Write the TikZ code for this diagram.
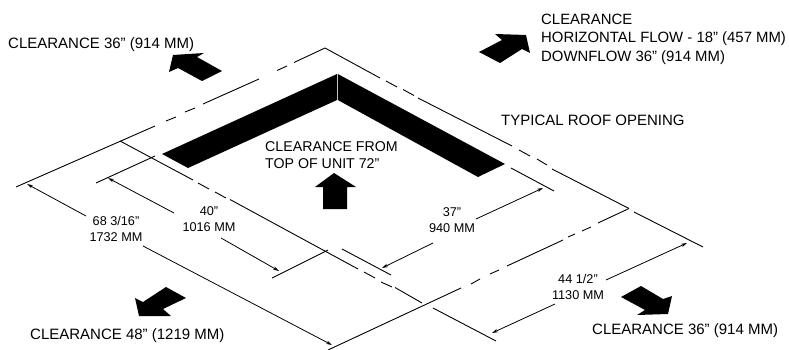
\documentclass[tikz,border=0pt]{standalone}
\usepackage{fontspec}
\setmainfont{Liberation Sans}
\usetikzlibrary{arrows.meta}

\begin{document}
\begin{tikzpicture}[
    x=1pt, y=-1pt,
    edge/.style={line width=0.9pt, line cap=butt},
    dimarrow/.style={-{Stealth[length=6pt,width=3.5pt]}, line width=0.8pt},
    flow/.style={fill=black, draw=none},
    note/.style={anchor=west, align=left, inner sep=0pt, font=\fontsize{15}{18.5}\selectfont},
    dimtext/.style={align=center, inner sep=0pt, font=\fontsize{12.7}{16}\selectfont}
]
    \useasboundingbox (0,0) rectangle (789,350);

    % Outer opening - upper left side
    \draw[edge] (325,48) -- (294,62.5);
    \draw[edge] (287,66) -- (277,70.5);
    \draw[edge] (259,79) -- (203,104);
    \draw[edge] (195,108) -- (185,112);
    \draw[edge] (176,117) -- (166,121);
    \draw[edge] (155,126) -- (16,187);

    % Outer opening - upper right side
    \draw[edge] (325,48) -- (380,78);
    \draw[edge] (386,81) -- (397,87);
    \draw[edge] (403,89.5) -- (414,95.5);
    \draw[edge] (418,98) -- (512,146);
    \draw[edge] (519,150) -- (530,156);
    \draw[edge] (537,159) -- (547,165);
    \draw[edge] (552,169) -- (629,208.5);
    \draw[edge] (634,212) -- (703,247);

    % Outer opening - lower right side
    \draw[edge] (629,208.5) -- (598,223);
    \draw[edge] (591,227) -- (582,231);
    \draw[edge] (575,234) -- (568,237);
    \draw[edge] (563,240) -- (507,266);
    \draw[edge] (499,270) -- (490,274);
    \draw[edge] (480,279) -- (471,284);
    \draw[edge] (461,288) -- (328,350);

    % Outer opening - lower left side
    \draw[edge] (120,141) -- (193,180);
    \draw[edge] (198,183) -- (209,189);
    \draw[edge] (215,192) -- (226,198);
    \draw[edge] (230,199.5) -- (358,269);
    \draw[edge] (364,272) -- (375,278);
    \draw[edge] (381,282) -- (392,287);
    \draw[edge] (395,287.5) -- (422,303);
    \draw[edge] (433,308) -- (496,341);

    % Inner extension lines
    \draw[edge] (155,156) -- (96,183);
    \draw[edge] (328,250) -- (272,278);
    \draw[edge] (511,168) -- (554,191);
    \draw[edge] (342,249) -- (391,275);

    % Black band of the unit
    \fill[flow] (337,74) -- (162,154) -- (188,168) -- (337,100) -- cycle;
    \fill[flow] (337.8,74) -- (505,164) -- (478,177) -- (337.8,100) -- cycle;

    % Flow arrows
    \fill[flow] (222,71) -- (202,81) -- (178,68) -- (169,72) -- (173,55) -- (204,53) -- (197,57) -- cycle;
    \fill[flow] (479,52) -- (502,40) -- (495,34) -- (526,35) -- (530,53) -- (522,49) -- (500,63) -- cycle;
    \fill[flow] (166,287) -- (186,298) -- (163,309) -- (171,316) -- (139,316) -- (135,298) -- (143,302) -- cycle;
    \fill[flow] (621,297) -- (641,286) -- (663,299) -- (672,296) -- (668,314) -- (637,315) -- (645,310) -- cycle;
    \fill[flow] (334,173) -- (356,187) -- (347,187) -- (347,209) -- (323,209) -- (323,187) -- (315,187) -- cycle;

    % Dimension lines
    \draw[dimarrow] (86,216) -- (27,184);
    \draw[dimarrow] (143,246) -- (332,345);
    \draw[dimarrow] (174,213) -- (108,178);
    \draw[dimarrow] (221,238) -- (279,271);
    \draw[dimarrow] (476,219) -- (543,188);
    \draw[dimarrow] (433,243) -- (382,268);
    \draw[dimarrow] (606,280) -- (687,243);
    \draw[dimarrow] (555,304) -- (492,333);

    % Dimension labels
    \node[dimtext] (dimlong) at (116,229) {68 3/16”\\1732 MM};
    \node[dimtext] (dimforty) at (209,219) {40”\\1016 MM};
    \node[dimtext] (dimthirty) at (452,220) {37”\\940 MM};
    \node[dimtext] (dimshort) at (578,287) {44 1/2”\\1130 MM};

    % Clearance notes
    \node[note] (leftnote) at (8,45) {CLEARANCE 36” (914 MM)};
    \node[note, font=\fontsize{14.9}{18.5}\selectfont] (rightnote) at (541,39) {CLEARANCE\\HORIZONTAL FLOW - 18" (457 MM)\\DOWNFLOW 36" (914 MM)};
    \node[note] (roofnote) at (501,120.5) {TYPICAL ROOF OPENING};
    \node[note, font=\fontsize{14.2}{17}\selectfont] (topnote) at (265,155.5) {CLEARANCE FROM\\TOP OF UNIT 72”};
    \node[note] (frontnote) at (30,336) {CLEARANCE 48” (1219 MM)};
    \node[note] (backnote) at (592,331) {CLEARANCE 36” (914 MM)};
\end{tikzpicture}
\end{document}
